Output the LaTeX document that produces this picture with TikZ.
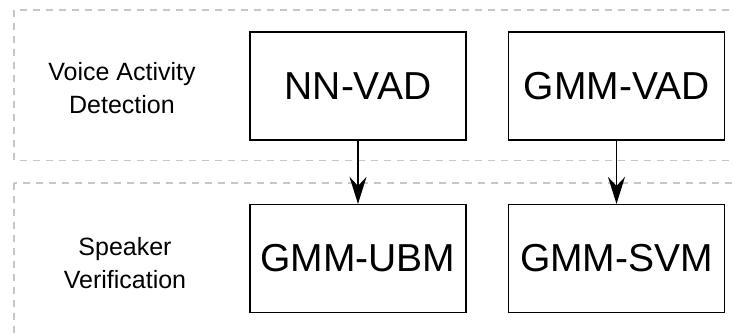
\documentclass[tikz,border=0pt]{standalone}
\usepackage{fontspec}
\setmainfont{Liberation Sans}
\usetikzlibrary{arrows.meta}
\begin{document}
\begin{tikzpicture}[x=1pt,y=-1pt,
  group/.style={draw=black!22, line width=1.5pt, dash pattern=on 7pt off 6pt},
  block/.style={draw=black, line width=1.2pt, minimum width=216pt, minimum height=108pt, inner sep=0pt, font=\fontsize{39}{42}\selectfont},
  grouplabel/.style={align=center, font=\fontsize{25}{33}\selectfont},
  conn/.style={draw=black, line width=1.2pt, -{Stealth[length=27pt, width=17pt, inset=9pt]}}]
\useasboundingbox (0,0) rectangle (734,333);
\begin{scope}
\clip (0,0) rectangle (734,333);
\draw[group] (14,10) rectangle (780,160.5);
\draw[group] (14,183) rectangle (780,400);
\end{scope}
\node[grouplabel] (vadlab) at (122,88) {Voice Activity\\Detection};
\node[grouplabel] (svlab) at (125,263) {Speaker\\Verification};
\node[block] (nnvad) at (358,86) {NN-VAD};
\node[block] (gmmvad) at (616.5,86) {GMM-VAD};
\node[block] (ubm) at (358,258.5) {GMM-UBM};
\node[block] (svm) at (616.5,258.5) {GMM-SVM};
\draw[conn] (nnvad) -- (ubm);
\draw[conn] (gmmvad) -- (svm);
\end{tikzpicture}
\end{document}
